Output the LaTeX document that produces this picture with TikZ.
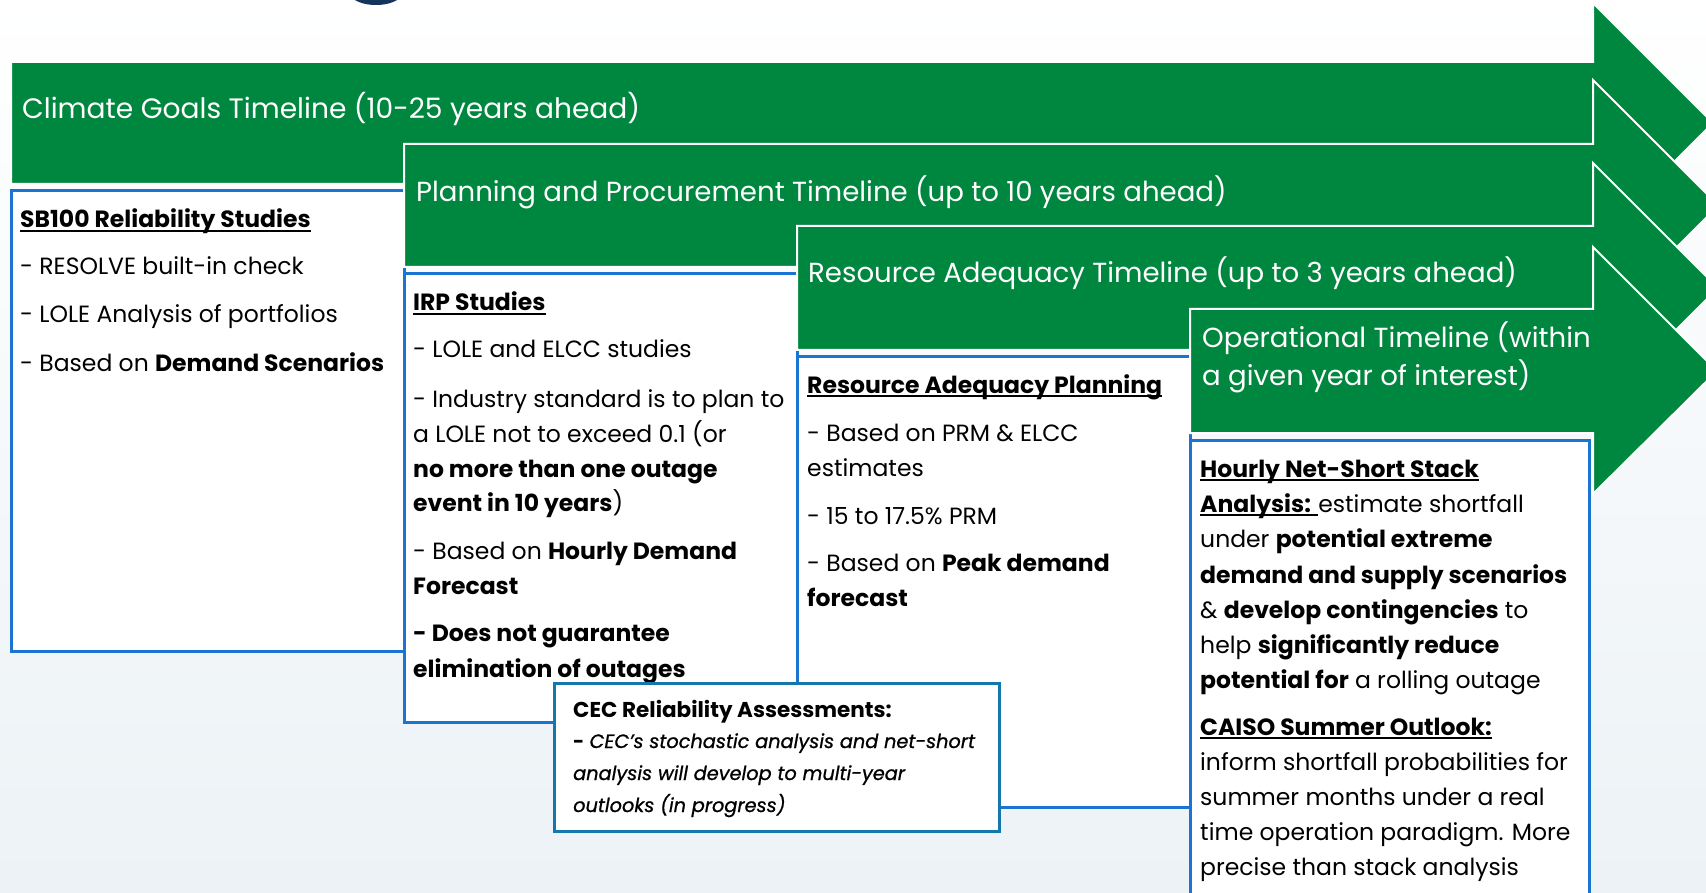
\documentclass[tikz,border=0pt]{standalone}
\usepackage{fontspec}
\setmainfont{Poppins}
\newfontfamily\cecfont{Poppins}[ItalicFeatures={FakeBold=0.9}]
\definecolor{bandgreen}{RGB}{0,135,63}
\definecolor{boxblue}{RGB}{28,116,210}
\definecolor{cecblue}{RGB}{20,120,172}
\definecolor{navy}{RGB}{20,52,92}
\definecolor{bgtint}{RGB}{236,242,246}
\newcommand\bandfont{\fontsize{27.6}{34}\selectfont}
\newcommand\wideband{\fontsize{28.1}{34}\selectfont}
\newcommand\bodyfont{\fontsize{23.5}{30}\selectfont}
\newcommand\cectitlefont{\fontsize{21.5}{26}\selectfont}
\newcommand\cecitalfont{\cecfont\fontsize{19.3}{26}\selectfont}
\begin{document}
\begin{tikzpicture}[x=1pt,y=-1pt,
  band/.style={fill=bandgreen,draw=white,line width=2pt,line join=miter},
  infobox/.style={fill=white,draw=boxblue,line width=3pt},
  cecbox/.style={fill=white,draw=cecblue,line width=3pt},
  bandtext/.style={anchor=base west,inner sep=0pt,text=white,font=\bandfont},
  body/.style={anchor=base west,inner sep=0pt,text=black,font=\bodyfont},
  cectitle/.style={anchor=base west,inner sep=0pt,text=black,font=\cectitlefont},
  cecital/.style={anchor=base west,inner sep=0pt,text=black,font=\cecitalfont},
  uline/.style={line width=1.6pt,black}]
\useasboundingbox (0,0) rectangle (1706,893);
\clip (0,0) rectangle (1706,893);
% page background
\shade[top color=white,bottom color=bgtint] (0,0) rectangle (1706,893);
\fill[navy] (376,-6) ellipse [x radius=25,y radius=11];

% climate goals arrow and its study box
\draw[band] (11,62) -- (1593,62) -- (1593,3) -- (1713,123) -- (1593,243) -- (1593,184) -- (11,184) -- cycle;
\node[bandtext,font=\wideband] (tclimate) at (22,119) {Climate Goals Timeline (10-25 years ahead)};
\draw[infobox] (11,191) rectangle (404,651);
\node[body] (sbT) at (20,228) {\textbf{SB100 Reliability Studies}};
\draw[uline] ([yshift=-3pt]sbT.base west) -- ([yshift=-3pt]sbT.base east);
\node[body] (sb1) at (20,275) {- RESOLVE built-in check};
\node[body] (sb2) at (20,323) {- LOLE Analysis of portfolios};
\node[body] (sb3) at (20,371) {- Based on \textbf{Demand Scenarios}};

% planning and procurement arrow and IRP box
\draw[band] (404,144) -- (1593,144) -- (1593,80) -- (1718.5,205.5) -- (1593,331) -- (1593,267) -- (404,267) -- cycle;
\node[bandtext] (tplanning) at (416,202) {Planning and Procurement Timeline (up to 10 years ahead)};
\draw[infobox] (404,274) rectangle (797,722);
\node[body] (irT) at (413,311) {\textbf{IRP Studies}};
\draw[uline] ([yshift=-3pt]irT.base west) -- ([yshift=-3pt]irT.base east);
\node[body] (ir1) at (413,358) {- LOLE and ELCC studies};
\node[body] (ir2) at (413,407) {- Industry standard is to plan to};
\node[body] (ir3) at (413,442) {a LOLE not to exceed 0.1 (or};
\node[body] (ir4) at (413,477) {\textbf{no more than one outage}};
\node[body] (ir5) at (413,511) {\textbf{event in 10 years})};
\node[body] (ir6) at (413,559) {- Based on \textbf{Hourly Demand}};
\node[body] (ir7) at (413,594) {\textbf{Forecast}};
\node[body] (ir8) at (413,641) {\textbf{- Does not guarantee}};
\node[body] (ir9) at (413,677) {\textbf{elimination of outages}};

% resource adequacy arrow and planning box
\draw[band] (797,226) -- (1593,226) -- (1593,163) -- (1718,288) -- (1593,413) -- (1593,350) -- (797,350) -- cycle;
\node[bandtext] (tra) at (808,283) {Resource Adequacy Timeline (up to 3 years ahead)};
\draw[infobox] (797,357) rectangle (1190,807);
\node[body] (raT) at (807,393) {\textbf{Resource Adequacy Planning}};
\draw[uline] ([yshift=-3pt]raT.base west) -- ([yshift=-3pt]raT.base east);
\node[body] (ra1) at (807,441) {- Based on PRM \& ELCC};
\node[body] (ra2) at (807,476) {estimates};
\node[body] (ra3) at (807,524) {- 15 to 17.5\% PRM};
\node[body] (ra4) at (807,571) {- Based on \textbf{Peak demand}};
\node[body] (ra5) at (807,606) {\textbf{forecast}};

% CEC assessments callout
\draw[cecbox] (554,683) rectangle (999,831);
\node[cectitle] (ceT) at (573,717) {\textbf{CEC Reliability Assessments:}};
\node[cecital] (ce1) at (573,748) {\textbf{-} \textit{CEC’s stochastic analysis and net-short}};
\node[cecital] (ce2) at (573,780) {\textit{analysis will develop to multi-year}};
\node[cecital] (ce3) at (573,812) {\textit{outlooks (in progress)}};

% operational arrow and its box
\draw[band] (1190,309) -- (1593,309) -- (1593,247) -- (1717,371) -- (1593,494) -- (1593,433) -- (1190,433) -- cycle;
\node[bandtext] (top1) at (1202,348) {Operational Timeline (within};
\node[bandtext] (top2) at (1202,385) {a given year of interest)};
\draw[infobox] (1190,440) rectangle (1589,910);
\node[body] (opT) at (1200,477) {\textbf{Hourly Net-Short Stack}};
\draw[uline] ([yshift=-3pt]opT.base west) -- ([yshift=-3pt]opT.base east);
\node[body] (opA) at (1200,512) {\textbf{Analysis:}\kern7pt};
\draw[uline] ([yshift=-3pt]opA.base west) -- ([yshift=-3pt]opA.base east);
\node[body] (opA2) at (opA.base east) {estimate shortfall};
\node[body] (op2) at (1200,547) {under \textbf{potential extreme}};
\node[body] (op3) at (1200,583) {\textbf{demand and supply scenarios}};
\node[body] (op4) at (1200,618) {\& \textbf{develop contingencies} to};
\node[body] (op5) at (1200,653) {help \textbf{significantly reduce}};
\node[body] (op6) at (1200,688) {\textbf{potential for} a rolling outage};
\node[body] (opC) at (1200,735) {\textbf{CAISO Summer Outlook:}};
\draw[uline] ([yshift=-3pt]opC.base west) -- ([yshift=-3pt]opC.base east);
\node[body] (op7) at (1200,770) {inform shortfall probabilities for};
\node[body] (op8) at (1200,805) {summer months under a real};
\node[body] (op9) at (1200,840) {time operation paradigm. More};
\node[body] (op10) at (1200,875) {precise than stack analysis};
\end{tikzpicture}
\end{document}
